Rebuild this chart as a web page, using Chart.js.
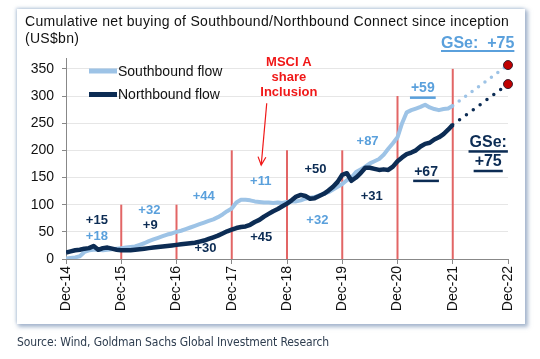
<!DOCTYPE html>
<html>
<head>
<meta charset="utf-8">
<script src="https://cdn.jsdelivr.net/npm/chart.js@4.4.1/dist/chart.umd.min.js"></script>
<style>
  html,body{margin:0;padding:0;background:#fff;width:540px;height:359px;overflow:hidden;}
  #panel{position:absolute;left:17px;top:9px;width:508px;height:315px;background:#fff;
    box-shadow:2px 2px 4px 1px rgba(120,145,180,0.65), -1px -1px 3px rgba(150,175,205,0.5);}
  #c{position:absolute;left:0;top:0;}
  #title{position:absolute;left:25px;top:13px;font:14px 'Liberation Sans',Arial,sans-serif;letter-spacing:0.3px;line-height:17px;color:#111;white-space:nowrap;}
  #gse{position:absolute;left:441px;top:34px;font:bold 16px 'Liberation Sans',Arial,sans-serif;color:#5AA0DC;
    text-decoration:underline;text-decoration-thickness:2px;text-underline-offset:2px;white-space:nowrap;}
  #source{position:absolute;left:17px;top:335px;font:12px 'DejaVu Sans Condensed','Liberation Sans Narrow',sans-serif;letter-spacing:-0.1px;color:#2e3d4f;white-space:nowrap;}
</style>
</head>
<body>
<div id="panel"></div>
<canvas id="c" width="540" height="359"></canvas>
<div id="title">Cumulative net buying of Southbound/Northbound Connect since inception<br>(US$bn)</div>
<div id="gse">GSe:&nbsp; +75</div>
<div id="source">Source: Wind, Goldman Sachs Global Investment Research</div>
<script>
// ---- DATA (months since Dec-14, monthly cumulative US$bn) ----
const xTickLabels = ['Dec-14','Dec-15','Dec-16','Dec-17','Dec-18','Dec-19','Dec-20','Dec-21','Dec-22'];
const southbound = [
  1, 2, 3, 5, 13, 16, 17, 17, 16, 17, 18, 19, 20,
  21, 22, 23, 26, 29, 33, 36, 39, 42, 45, 47, 50,
  52, 55, 58, 61, 64, 67, 70, 73, 77, 82, 88, 93,
  104, 109, 109, 108, 106, 105, 104, 104, 103, 104, 103, 105,
  106, 106, 108, 111, 113, 114, 117, 120, 123, 128, 133, 138,
  145, 150, 160, 165, 170, 176, 180, 184, 192, 203, 213, 224,
  250, 270, 274, 277, 280, 284, 279, 276, 274, 276, 277, 282
];
const northbound = [
  12, 14, 16, 17, 19, 20, 24, 17, 20, 21, 19, 17, 16,
  16, 16, 17, 18, 19, 20, 21, 22, 23, 24, 25, 26,
  27, 28, 29, 30, 32, 34, 37, 40, 43, 47, 51, 54,
  57, 59, 60, 63, 68, 72, 78, 83, 88, 92, 97, 102,
  108, 115, 118, 116, 111, 112, 116, 120, 126, 133, 142, 155,
  158, 144, 150, 158, 168, 168, 166, 164, 165, 164, 170, 180,
  187, 193, 196, 200, 207, 212, 214, 220, 224, 230, 238, 247
];
const projectionMonths = [84, 96];
const southboundProjection = [282, 357];
const northboundProjection = [247, 322];
const markerMonths = [12, 24, 36, 48, 60, 72, 84];
const markerHeights = [100, 100, 200, 200, 200, 300, 350];
const seriesNames = ['Southbound flow', 'Northbound flow'];

// ---- styles ----
const LIGHT = '#9DC3E6', DARK = '#0C2C54', LTEXT = '#5AA0DC', RED = '#E26565';
const FONT = "'Liberation Sans', Arial, sans-serif";
Chart.defaults.font.family = FONT;

const notes = [
  {text:'+15', m:6.7, v:70.5, color:DARK, font:'bold 13px '+FONT},
  {text:'+18', m:6.7, v:42.4, color:LTEXT, font:'bold 13px '+FONT},
  {text:'+32', m:18.1, v:90.2, color:LTEXT, font:'bold 13px '+FONT},
  {text:'+9', m:18.3, v:62.6, color:DARK, font:'bold 13px '+FONT},
  {text:'+44', m:29.9, v:114.7, color:LTEXT, font:'bold 13px '+FONT},
  {text:'+30', m:30.3, v:19.7, color:DARK, font:'bold 13px '+FONT},
  {text:'+11', m:42.3, v:142.4, color:LTEXT, font:'bold 13px '+FONT},
  {text:'+45', m:42.4, v:40, color:DARK, font:'bold 13px '+FONT},
  {text:'+50', m:54.2, v:164, color:DARK, font:'bold 13px '+FONT},
  {text:'+32', m:54.6, v:71.8, color:LTEXT, font:'bold 13px '+FONT},
  {text:'+87', m:65.5, v:217, color:LTEXT, font:'bold 13px '+FONT},
  {text:'+31', m:66.4, v:114.8, color:DARK, font:'bold 13px '+FONT},
  {text:'+59', m:77.5, v:314, color:LTEXT, font:'bold 14px '+FONT, underline:true},
  {text:'+67', m:78.2, v:160.8, color:DARK, font:'bold 14px '+FONT, underline:true},
  {text:'GSe:', m:91.7, v:215, color:DARK, font:'bold 16px '+FONT, underline:true},
  {text:'+75', m:91.7, v:179, color:DARK, font:'bold 16px '+FONT, underline:true},
  {text:'MSCI A', m:48.4, v:361.5, color:'#F01818', font:'bold 13px '+FONT},
  {text:'share', m:48.4, v:334, color:'#F01818', font:'bold 13px '+FONT},
  {text:'Inclusion', m:48.4, v:307, color:'#F01818', font:'bold 13px '+FONT}
];
const arrow = {from:[43.6, 286.7], to:[42.4, 173]};

const overlay = {
  id:'overlay',
  afterDatasetsDraw(chart){
    const {ctx, chartArea:a, scales:{x, y}} = chart;
    ctx.save();
    ctx.textAlign = 'center';
    ctx.textBaseline = 'middle';
    notes.forEach(n => {
      ctx.font = n.font; ctx.fillStyle = n.color;
      const px = x.getPixelForValue(n.m), py = y.getPixelForValue(n.v);
      ctx.fillText(n.text, px, py);
      if (n.underline){
        const w = ctx.measureText(n.text).width;
        ctx.fillRect(px - w/2 - 1, py + 8, w + 2, 2.5);
      }
    });
    // arrow
    const x1 = x.getPixelForValue(arrow.from[0]), y1 = y.getPixelForValue(arrow.from[1]);
    const x2 = x.getPixelForValue(arrow.to[0]), y2 = y.getPixelForValue(arrow.to[1]);
    ctx.strokeStyle = '#F01818'; ctx.lineWidth = 1.2;
    ctx.beginPath(); ctx.moveTo(x1, y1); ctx.lineTo(x2, y2); ctx.stroke();
    const ang = Math.atan2(y2 - y1, x2 - x1);
    ctx.beginPath();
    ctx.moveTo(x2 + 9*Math.cos(ang + Math.PI - 0.45), y2 + 9*Math.sin(ang + Math.PI - 0.45));
    ctx.lineTo(x2, y2);
    ctx.lineTo(x2 + 9*Math.cos(ang + Math.PI + 0.45), y2 + 9*Math.sin(ang + Math.PI + 0.45));
    ctx.stroke();
    // legend
    const cols = [LIGHT, DARK];
    ctx.textAlign = 'left';
    ctx.font = '14px ' + FONT;
    seriesNames.forEach((name, i) => {
      const ly = a.top + 13 + i*23.5;
      ctx.strokeStyle = cols[i]; ctx.lineWidth = 5; ctx.lineCap = 'butt';
      ctx.beginPath(); ctx.moveTo(a.left + 23, ly); ctx.lineTo(a.left + 51, ly); ctx.stroke();
      ctx.fillStyle = '#111';
      ctx.fillText(name, a.left + 52, ly + 1);
    });
    ctx.restore();
  }
};

const toXY = (arr, xs) => arr.map((v, i) => ({x: xs ? xs[i] : i, y: v}));
const markerSets = markerMonths.map((m, i) => ({
  data: [{x:m, y:0}, {x:m, y:markerHeights[i]}],
  borderColor: RED, borderWidth: 2, pointRadius: 0, order: 5
}));

new Chart(document.getElementById('c'), {
  type: 'line',
  data: {
    datasets: [
      {label: seriesNames[1], data: toXY(northbound), borderColor: DARK, borderWidth: 4.5, pointRadius: 0, borderJoinStyle:'round', order: 1},
      {label: seriesNames[0], data: toXY(southbound), borderColor: LIGHT, borderWidth: 4, pointRadius: 0, borderJoinStyle:'round', order: 2},
      {label: 'nbProj', data: toXY(northboundProjection, projectionMonths), borderColor: DARK, borderWidth: 3.5,
        borderDash: [0, 8.5], borderCapStyle: 'round', pointRadius: [0, 4.5], pointBackgroundColor: '#C00000',
        pointBorderColor: '#3a2030', pointBorderWidth: 1, order: 3, clip: false},
      {label: 'sbProj', data: toXY(southboundProjection, projectionMonths), borderColor: LIGHT, borderWidth: 3.5,
        borderDash: [0, 8], borderCapStyle: 'round', pointRadius: [0, 4.5], pointBackgroundColor: '#C00000',
        pointBorderColor: '#3a2030', pointBorderWidth: 1, order: 3, clip: false},
      ...markerSets
    ]
  },
  options: {
    responsive: false,
    animation: false,
    layout: {padding: {left: 0, right: 32, top: 58, bottom: 0}},
    plugins: {legend: {display: false}, tooltip: {enabled: false}},
    scales: {
      x: {
        type: 'linear', min: 0, max: 96,
        afterBuildTicks: s => { s.ticks = xTickLabels.map((_, i) => ({value: i*12})); },
        afterFit: s => { s.height = 100; },
        ticks: {
          callback: v => xTickLabels[Math.round(v/12)],
          minRotation: 90, maxRotation: 90, autoSkip: false,
          color: '#111', font: {size: 14}, padding: 2
        },
        grid: {display: true, drawOnChartArea: false, tickLength: 5, tickColor: '#888', color: '#888'},
        border: {display: true, color: '#888', width: 1}
      },
      y: {
        min: 0, max: 370,
        afterBuildTicks: s => { s.ticks = [0,50,100,150,200,250,300,350].map(v => ({value: v})); },
        afterFit: s => { s.width = 66; },
        ticks: {color: '#111', font: {size: 14}, padding: 8},
        grid: {color: '#E6E6E6', tickLength: 4, tickColor: '#888', lineWidth: 1},
        border: {display: true, color: '#888', width: 1}
      }
    }
  },
  plugins: [overlay]
});
</script>
</body>
</html>
